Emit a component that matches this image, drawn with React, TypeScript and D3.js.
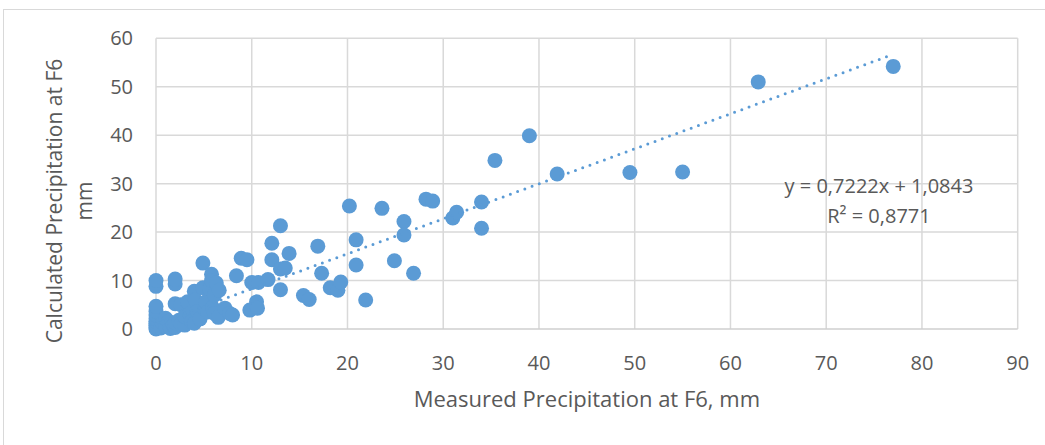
import { useEffect, useRef } from "react";
import * as d3 from "d3";

// Measured vs calculated precipitation at F6 (mm)
const measured = [
  0, 0, 0, 0, 0, 0, 0, 0, 0, 0, 0, 0.5, 0.7, 1.0, 1.0, 1.3, 1.5, 1.8, 2.0, 2.0,
  2.0, 2.0, 2.0, 2.4, 2.6, 2.6, 3.0, 3.0, 3.3, 3.5, 3.7, 4.0, 4.0, 4.1, 4.3, 4.6,
  4.9, 4.9, 5.1, 5.2, 5.4, 5.6, 5.8, 5.8, 5.9, 6.1, 6.1, 6.3, 6.6, 6.5, 7.2, 7.7,
  8.0, 8.4, 8.9, 9.5, 10.0, 10.7, 10.5, 9.8, 10.6, 11.7, 12.1, 12.1, 13.0, 13.0,
  13.0, 13.5, 13.9, 15.4, 16.0, 16.9, 17.3, 18.2, 19.0, 19.3, 20.2, 20.9, 20.9,
  21.9, 23.6, 24.9, 25.9, 25.9, 26.9, 28.2, 28.9, 31.0, 31.4, 34.0, 34.0, 35.4,
  39.0, 41.9, 49.5, 55.0, 62.9, 77.0,
];
const calculated = [
  0, 0.3, 0.7, 1.1, 1.6, 2.1, 2.9, 3.6, 4.7, 8.8, 10.0, 0.2, 1.3, 0.5, 2.2, 1.6,
  0.1, 0.8, 0.3, 1.3, 5.2, 9.3, 10.3, 1.8, 5.0, 1.0, 0.8, 2.6, 5.6, 3.1, 1.5, 1.2,
  7.8, 6.0, 3.6, 2.1, 13.6, 8.5, 4.1, 5.6, 3.5, 8.3, 11.3, 10.0, 4.5, 3.2, 7.0,
  9.5, 8.0, 2.4, 4.3, 3.2, 2.9, 11.0, 14.6, 14.3, 9.6, 9.6, 5.6, 3.9, 4.3, 10.2,
  17.7, 14.3, 21.3, 8.1, 12.4, 12.6, 15.6, 6.9, 6.1, 17.1, 11.5, 8.5, 8.0, 9.7,
  25.4, 18.4, 13.2, 6.0, 24.9, 14.1, 22.2, 19.4, 11.5, 26.8, 26.4, 22.9, 24.1,
  26.2, 20.8, 34.8, 39.9, 32.0, 32.3, 32.4, 51.0, 54.2,
];

const xTicks = [0, 10, 20, 30, 40, 50, 60, 70, 80, 90];
const yTicks = [0, 10, 20, 30, 40, 50, 60];

// linear trendline as reported on the chart
const slope = 0.7222;
const intercept = 1.0843;
const equationLines = ["y = 0,7222x + 1,0843", "R² = 0,8771"];

const xTitle = "Measured Precipitation at F6, mm";
const yTitleLines = ["Calculated Precipitation at F6", "mm"];

export default function App() {
  const ref = useRef<SVGSVGElement>(null);

  useEffect(() => {
    if (!ref.current) return;
    const width = 1045,
      height = 445;
    const plot = { left: 156, right: 1017.7, top: 38.3, bottom: 329 };
    const font = "'Open Sans', sans-serif";
    const textColor = "#595959";
    const grid = "#d9d9d9";
    const blue = "#5b9bd5";

    const svg = d3.select(ref.current);
    svg.selectAll("*").remove();
    svg.attr("width", width).attr("height", height);

    // chart border (only top/left fall inside the picture)
    svg
      .append("rect")
      .attr("x", 3.5)
      .attr("y", 9.5)
      .attr("width", 1060)
      .attr("height", 460)
      .attr("fill", "#fff")
      .attr("stroke", grid)
      .attr("stroke-width", 1);

    const x = d3.scaleLinear().domain([0, 90]).range([plot.left, plot.right]);
    const y = d3.scaleLinear().domain([0, 60]).range([plot.bottom, plot.top]);

    // gridlines
    svg
      .append("g")
      .selectAll("line")
      .data(yTicks.slice(1))
      .enter()
      .append("line")
      .attr("x1", plot.left)
      .attr("x2", plot.right)
      .attr("y1", (d) => y(d))
      .attr("y2", (d) => y(d))
      .attr("stroke", grid)
      .attr("stroke-width", 1.5);

    svg
      .append("g")
      .selectAll("line")
      .data(xTicks)
      .enter()
      .append("line")
      .attr("x1", (d) => x(d))
      .attr("x2", (d) => x(d))
      .attr("y1", plot.top)
      .attr("y2", plot.bottom)
      .attr("stroke", grid)
      .attr("stroke-width", 1.5);

    // x axis line
    svg
      .append("line")
      .attr("x1", plot.left)
      .attr("x2", plot.right)
      .attr("y1", plot.bottom)
      .attr("y2", plot.bottom)
      .attr("stroke", "#cfcfcf")
      .attr("stroke-width", 1.5);

    // tick labels
    svg
      .append("g")
      .selectAll("text")
      .data(xTicks)
      .enter()
      .append("text")
      .attr("x", (d) => x(d))
      .attr("y", plot.bottom + 41)
      .attr("text-anchor", "middle")
      .style("font-family", font)
      .style("font-size", "20px")
      .style("fill", textColor)
      .text((d) => d);

    svg
      .append("g")
      .selectAll("text")
      .data(yTicks)
      .enter()
      .append("text")
      .attr("x", 133)
      .attr("y", (d) => y(d) + 7)
      .attr("text-anchor", "end")
      .style("font-family", font)
      .style("font-size", "20px")
      .style("fill", textColor)
      .text((d) => d);

    // points
    const points = measured.map((m, i) => ({ m, c: calculated[i] }));
    svg
      .append("g")
      .selectAll("circle")
      .data(points)
      .enter()
      .append("circle")
      .attr("cx", (d) => x(d.m))
      .attr("cy", (d) => y(d.c))
      .attr("r", 7.5)
      .attr("fill", blue);

    // trendline
    const xExt = d3.extent(measured) as [number, number];
    svg
      .append("path")
      .attr(
        "d",
        d3.line()(xExt.map((v) => [x(v), y(slope * v + intercept)]) as [number, number][])
      )
      .attr("fill", "none")
      .attr("stroke", blue)
      .attr("stroke-width", 3)
      .attr("stroke-linecap", "round")
      .attr("stroke-dasharray", "0 7.7");

    // equation label
    svg
      .append("g")
      .selectAll("text")
      .data(equationLines)
      .enter()
      .append("text")
      .attr("x", 879)
      .attr("y", (d, i) => 193 + i * 29.5)
      .attr("text-anchor", "middle")
      .style("font-family", font)
      .style("font-size", "20px")
      .style("fill", textColor)
      .text((d) => d);

    // axis titles
    svg
      .append("text")
      .attr("x", (plot.left + plot.right) / 2)
      .attr("y", 407)
      .attr("text-anchor", "middle")
      .style("font-family", font)
      .style("font-size", "22px")
      .style("fill", textColor)
      .text(xTitle);

    svg
      .append("g")
      .attr("transform", "translate(62,201) rotate(-90)")
      .selectAll("text")
      .data(yTitleLines)
      .enter()
      .append("text")
      .attr("x", 0)
      .attr("y", (d, i) => i * 30)
      .attr("text-anchor", "middle")
      .style("font-family", font)
      .style("font-size", "21px")
      .style("fill", textColor)
      .text((d) => d);
  }, []);

  return <svg ref={ref} style={{ position: "absolute", left: 0, top: 0 }} />;
}
